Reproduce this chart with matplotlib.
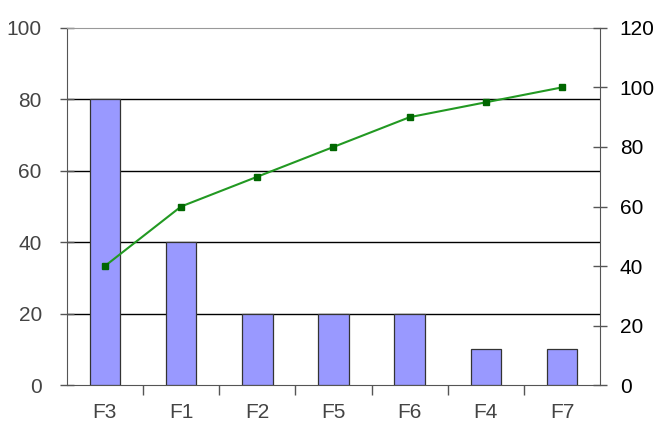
import numpy as np
import matplotlib.pyplot as plt

plt.rcParams['font.family'] = ['Liberation Sans', 'DejaVu Sans']

# valores por factor, ya ordenados de mayor a menor
factores = ['F3', 'F1', 'F2', 'F5', 'F6', 'F4', 'F7']
frecuencia = [80, 40, 20, 20, 20, 10, 10]
acumulado = [40, 60, 70, 80, 90, 95, 100]

x = np.arange(len(factores))

fig = plt.figure(figsize=(6.61, 4.28), dpi=100)
ax = fig.add_axes([0.101, 0.1, 0.807, 0.835])

# barras de frecuencia
ax.bar(x, frecuencia, width=0.4, color='#9999ff', edgecolor='#333333', linewidth=0.9, zorder=3)
ax.set_xlim(-0.5, len(factores) - 0.5)
ax.set_ylim(0, 100)
ax.set_yticks([0, 20, 40, 60, 80, 100])

# lineas de rejilla
for v in [20, 40, 60, 80]:
    ax.axhline(v, color='black', linewidth=1.0, zorder=1)

ax.spines['top'].set_color('#999999')
for s in ['left', 'bottom']:
    ax.spines[s].set_color('#555555')
ax.spines['right'].set_visible(False)

ax.tick_params(axis='y', direction='inout', length=10, width=1, colors='#555555',
               labelcolor='#444444', labelsize=15, pad=13)
ax.set_xticks(x)
ax.set_xticklabels(factores)
ax.tick_params(axis='x', length=0, labelcolor='#444444', labelsize=15, pad=13)
ax.set_xticks(np.arange(0.5, len(factores) - 1, 1), minor=True)
ax.tick_params(axis='x', which='minor', direction='out', length=7, width=1, color='#555555')

# eje derecho con el porcentaje acumulado
ax2 = ax.twinx()
ax2.set_ylim(0, 120)
ax2.set_yticks([0, 20, 40, 60, 80, 100, 120])
ax2.plot(x, acumulado, color='#229922', linewidth=1.5, marker='s', markersize=4,
         markerfacecolor='#006600', markeredgecolor='#006600', zorder=4)
for s in ['top', 'left', 'bottom']:
    ax2.spines[s].set_visible(False)
ax2.spines['right'].set_color('#555555')
ax2.tick_params(axis='y', direction='inout', length=10, width=1, colors='#555555',
                labelcolor='black', labelsize=15, pad=9)

fig.savefig('out.png', dpi=100)
